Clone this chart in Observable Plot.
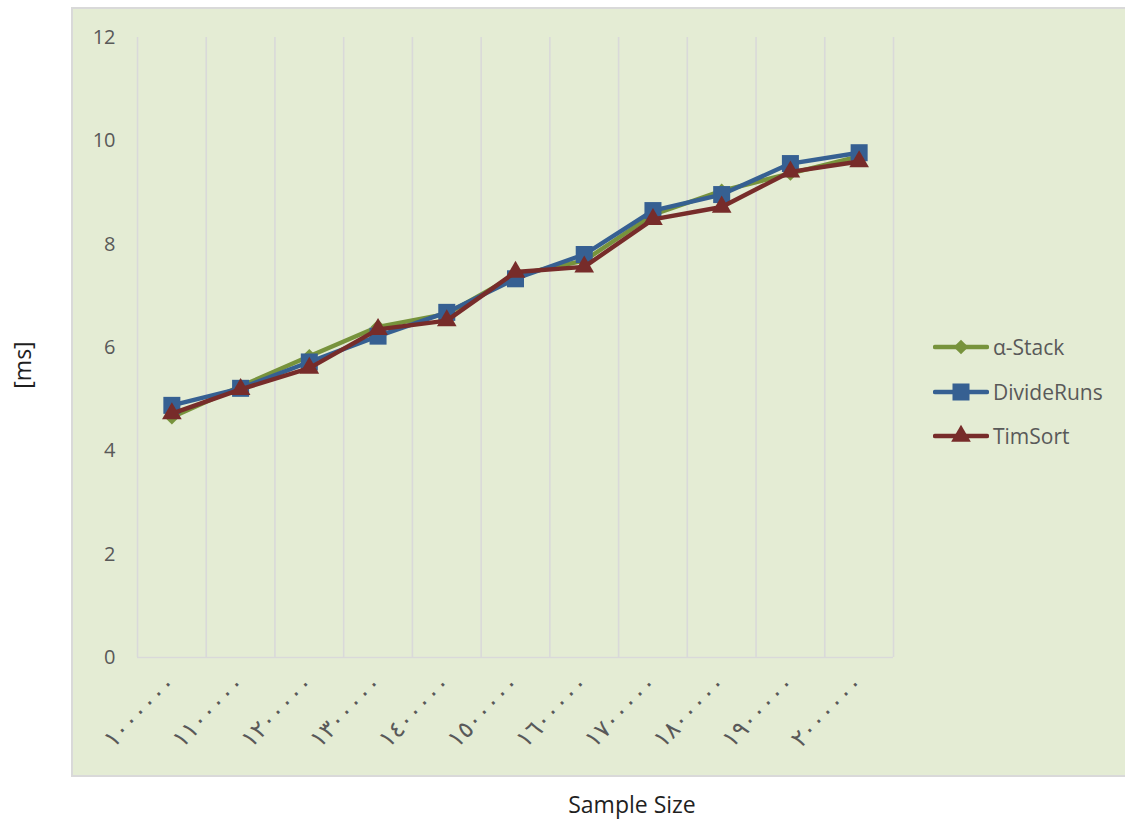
<!DOCTYPE html>
<html>
<head>
<meta charset="utf-8">
<script src="https://cdn.jsdelivr.net/npm/d3@7"></script>
<script src="https://cdn.jsdelivr.net/npm/@observablehq/plot@0.6"></script>
<style>
  html, body { margin: 0; padding: 0; background: #ffffff; overflow: hidden; }
  #wrap { position: relative; width: 1125px; height: 820px; font-family: "Open Sans", "DejaVu Sans", sans-serif; color: #595959; }
  #panel { position: absolute; left: 71px; top: 7px; width: 1060px; height: 766px; background: #E4ECD4; border: 2px solid #D9D9D9; }
  #chart { position: absolute; left: 0; top: 0; }
  .title-x { position: absolute; left: 0; width: 1264px; top: 788px; text-align: center; font-size: 23px; color: #1f1f1f; }
  .title-y { position: absolute; left: 22px; top: 365px; transform: translate(-50%, -50%) rotate(-90deg); font-size: 23px; color: #1f1f1f; white-space: nowrap; }
  #legend { position: absolute; left: 933px; top: 325px; }
  .item { display: flex; align-items: center; height: 44.5px; font-size: 21px; color: #595959; }
  .item svg { margin-right: 4px; }
</style>
</head>
<body>
<div id="wrap">
  <div id="panel"></div>
  <div id="chart"></div>
  <div class="title-y">[ms]</div>
  <div class="title-x">Sample Size</div>
  <div id="legend"></div>
</div>
<script>
// Sample sizes on the horizontal axis
const sampleSizes = [1000000, 1100000, 1200000, 1300000, 1400000, 1500000,
                     1600000, 1700000, 1800000, 1900000, 2000000];

// Running time in milliseconds for each algorithm
const alphaStack = [4.65, 5.25, 5.83, 6.40, 6.65, 7.40, 7.68, 8.57, 9.03, 9.37, 9.70];
const divideRuns = [4.88, 5.21, 5.72, 6.22, 6.68, 7.33, 7.80, 8.65, 8.96, 9.56, 9.77];
const timSort    = [4.72, 5.19, 5.60, 6.35, 6.52, 7.46, 7.56, 8.48, 8.72, 9.40, 9.60];

const seriesNames = ["α-Stack", "DivideRuns", "TimSort"];
const yTicks = [0, 2, 4, 6, 8, 10, 12];

// Styling per series
const seriesStyle = {
  "α-Stack":    {color: "#77933C", symbol: "diamond2", r: 6.6},
  "DivideRuns": {color: "#366092", symbol: "square",   r: 9.6},
  "TimSort":    {color: "#772C2A", symbol: "triangle", r: 7.3}
};

// Arabic-Indic digits for the sample size labels
const arabicDigits = "٠١٢٣٤٥٦٧٨٩";
const toArabic = n => String(n).replace(/\d/g, d => arabicDigits[+d]);

const n = sampleSizes.length;
const seriesValues = [alphaStack, divideRuns, timSort];
const rows = seriesNames.flatMap((name, s) =>
  seriesValues[s].map((v, i) => ({series: name, i, size: sampleSizes[i], ms: v})));

// Category boundaries carry the vertical gridlines
const boundaries = d3.range(n + 1).map(i => i - 0.5);

const seriesMarks = seriesNames.flatMap(name => {
  const st = seriesStyle[name];
  const data = rows.filter(d => d.series === name);
  return [
    Plot.line(data, {x: "i", y: "ms", stroke: st.color, strokeWidth: 4.4,
                     strokeLinejoin: "round", strokeLinecap: "round"}),
    Plot.dot(data, {x: "i", y: "ms", symbol: () => st.symbol, r: st.r,
                    fill: st.color, stroke: "none"})
  ];
});

const chart = Plot.plot({
  width: 1125,
  height: 820,
  marginLeft: 137,
  marginRight: 232,
  marginTop: 37,
  marginBottom: 163,
  style: {background: "transparent", fontFamily: "'Open Sans', 'DejaVu Sans', sans-serif", overflow: "visible"},
  x: {domain: [-0.5, n - 0.5], axis: null},
  y: {domain: [0, 12], axis: null},
  symbol: {type: "identity"},
  marks: [
    Plot.ruleX(boundaries, {stroke: "#D9D9D9", strokeWidth: 1.6}),
    Plot.ruleY([0], {stroke: "#D9D9D9", strokeWidth: 1.6}),
    Plot.axisY({ticks: yTicks, tickSize: 0, tickPadding: 22, fontSize: 20,
                fill: "#595959", label: null}),
    Plot.axisX({ticks: d3.range(n), tickFormat: i => toArabic(sampleSizes[i]),
                tickRotate: -45, tickSize: 0, tickPadding: 22, fontSize: 24,
                fill: "#595959", label: null}),
    ...seriesMarks
  ]
});
document.getElementById("chart").appendChild(chart);

// Legend: line with marker, then the series name
const legend = d3.select("#legend");
for (const name of seriesNames) {
  const st = seriesStyle[name];
  const item = legend.append("div").attr("class", "item");
  const svg = item.append("svg").attr("width", 56).attr("height", 24);
  svg.append("line").attr("x1", 2).attr("x2", 54).attr("y1", 12).attr("y2", 12)
    .attr("stroke", st.color).attr("stroke-width", 4.4).attr("stroke-linecap", "round");
  const sym = {diamond2: d3.symbolDiamond2, square: d3.symbolSquare, triangle: d3.symbolTriangle}[st.symbol];
  svg.append("path").attr("transform", "translate(28,12)")
    .attr("d", d3.symbol(sym, Math.PI * st.r * st.r)())
    .attr("fill", st.color);
  item.append("span").text(name);
}
</script>
</body>
</html>
